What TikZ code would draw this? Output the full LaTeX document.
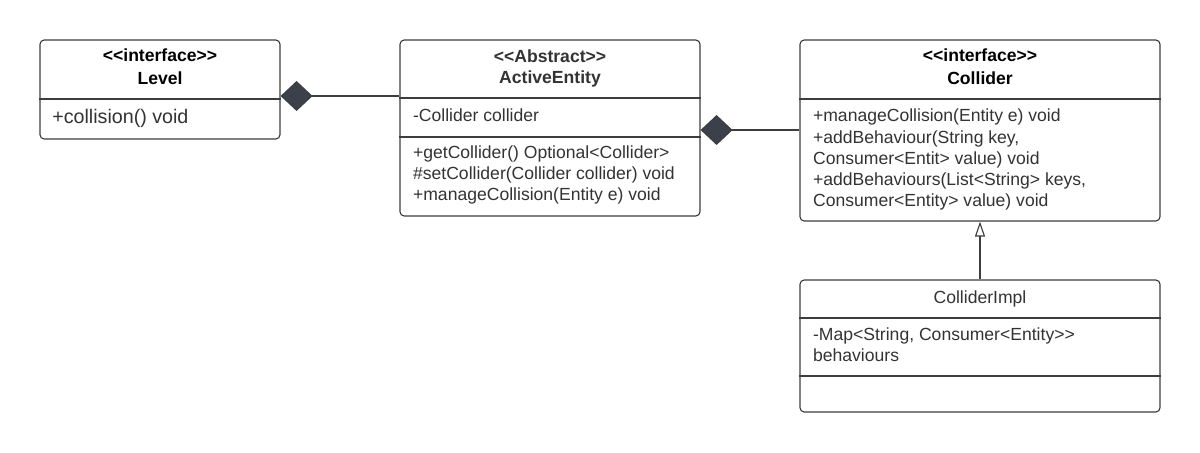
\documentclass[tikz,border=0pt]{standalone}
\usepackage{fontspec}
\setmainfont{Liberation Sans}[Ligatures=TeXOff]
\usepackage{tikz}
\usepackage{xcolor}
\usetikzlibrary{arrows.meta}
\definecolor{umlline}{HTML}{3D3D3D}
\definecolor{umltext}{HTML}{333333}
\definecolor{umldiamond}{HTML}{3A414A}
\tikzset{
    classbox/.style={draw=umlline, line width=0.8pt, rounded corners=3pt, fill=white, inner sep=0pt},
    classtitle/.style={font=\bfseries\fontsize{12.5}{15}\selectfont, anchor=base, inner sep=0pt},
    member/.style={font=\fontsize{12.5}{15}\selectfont, text=umltext, anchor=base west, inner sep=0pt},
    divider/.style={draw=umlline, line width=0.8pt},
    link/.style={draw=umlline, line width=0.8pt}
}

\begin{document}
\begin{tikzpicture}
        %\draw[gray] (0,-12) grid (30,0);
        \useasboundingbox (0,0) rectangle (30,-11.325);

        % Level
        \node[classbox, minimum width=6cm, minimum height=2.475cm] (level) at (4,-2.2375) {};
        \draw[divider] (level.west |- 0,-2.475) -- (level.east |- 0,-2.475);
        \node[classtitle] (levelstereo) at (4,-1.5375) {<<interface>>};
        \node[classtitle] (levelname) at (4,-2.125) {Level};
        \node[member, font=\fontsize{14}{17}\selectfont] (levelm1) at (1.3,-3.1) {+collision() void};

        % ActiveEntity
        \node[classbox, minimum width=7.5cm, minimum height=4.4cm] (ae) at (13.75,-3.2) {};
        \draw[divider] (ae.west |- 0,-2.45) -- (ae.east |- 0,-2.45);
        \draw[divider] (ae.west |- 0,-3.425) -- (ae.east |- 0,-3.425);
        \node[classtitle, text=umltext] (aestereo) at (13.75,-1.5675) {<<Abstract>>};
        \node[classtitle, text=umltext] (aename) at (13.75,-2.1) {ActiveEntity};
        \node[member] (aea1) at (10.32,-3.0425) {-Collider collider};
        \node[member] (aem1) at (10.32,-3.9575) {+getCollider() Optional<Collider>};
        \node[member] (aem2) at (10.32,-4.4875) {\#setCollider(Collider collider) void};
        \node[member] (aem3) at (10.32,-5.0175) {+manageCollision(Entity e) void};

        % Collider
        \node[classbox, minimum width=9cm, minimum height=4.525cm] (collider) at (24.5,-3.2625) {};
        \draw[divider] (collider.west |- 0,-2.475) -- (collider.east |- 0,-2.475);
        \node[classtitle] (colstereo) at (24.5,-1.5475) {<<interface>>};
        \node[classtitle] (colname) at (24.5,-2.125) {Collider};
        \node[member] (colm1) at (20.32,-3.0425) {+manageCollision(Entity e) void};
        \node[member] (colm2) at (20.32,-3.5825) {+addBehaviour(String key,};
        \node[member] (colm3) at (20.32,-4.1075) {Consumer<Entit> value) void};
        \node[member] (colm4) at (20.32,-4.6425) {+addBehaviours(List<String> keys,};
        \node[member] (colm5) at (20.32,-5.1675) {Consumer<Entity> value) void};

        % ColliderImpl
        \node[classbox, minimum width=9cm, minimum height=3.3cm] (impl) at (24.5,-8.65) {};
        \draw[divider] (impl.west |- 0,-7.95) -- (impl.east |- 0,-7.95);
        \draw[divider] (impl.west |- 0,-9.4) -- (impl.east |- 0,-9.4);
        \node[member, anchor=base] (implname) at (24.5,-7.5825) {ColliderImpl};
        \node[member] (impla1) at (20.32,-8.5) {-Map<String, Consumer<Entity>{}>};
        \node[member] (impla2) at (20.32,-9.0425) {behaviours};

        % relations
        \draw[link, -{Diamond[length=0.8cm, width=0.75cm, fill=umldiamond]}] (ae.west |- 0,-2.4) -- (level.east |- 0,-2.4);
        \draw[link, -{Diamond[length=0.8cm, width=0.75cm, fill=umldiamond]}] (collider.west |- 0,-3.25) -- (ae.east |- 0,-3.25);
        \draw[link, -{Triangle[open, length=0.375cm, width=0.25cm, fill=white]}] (impl.north) -- (collider.south);
    \end{tikzpicture}
\end{document}
